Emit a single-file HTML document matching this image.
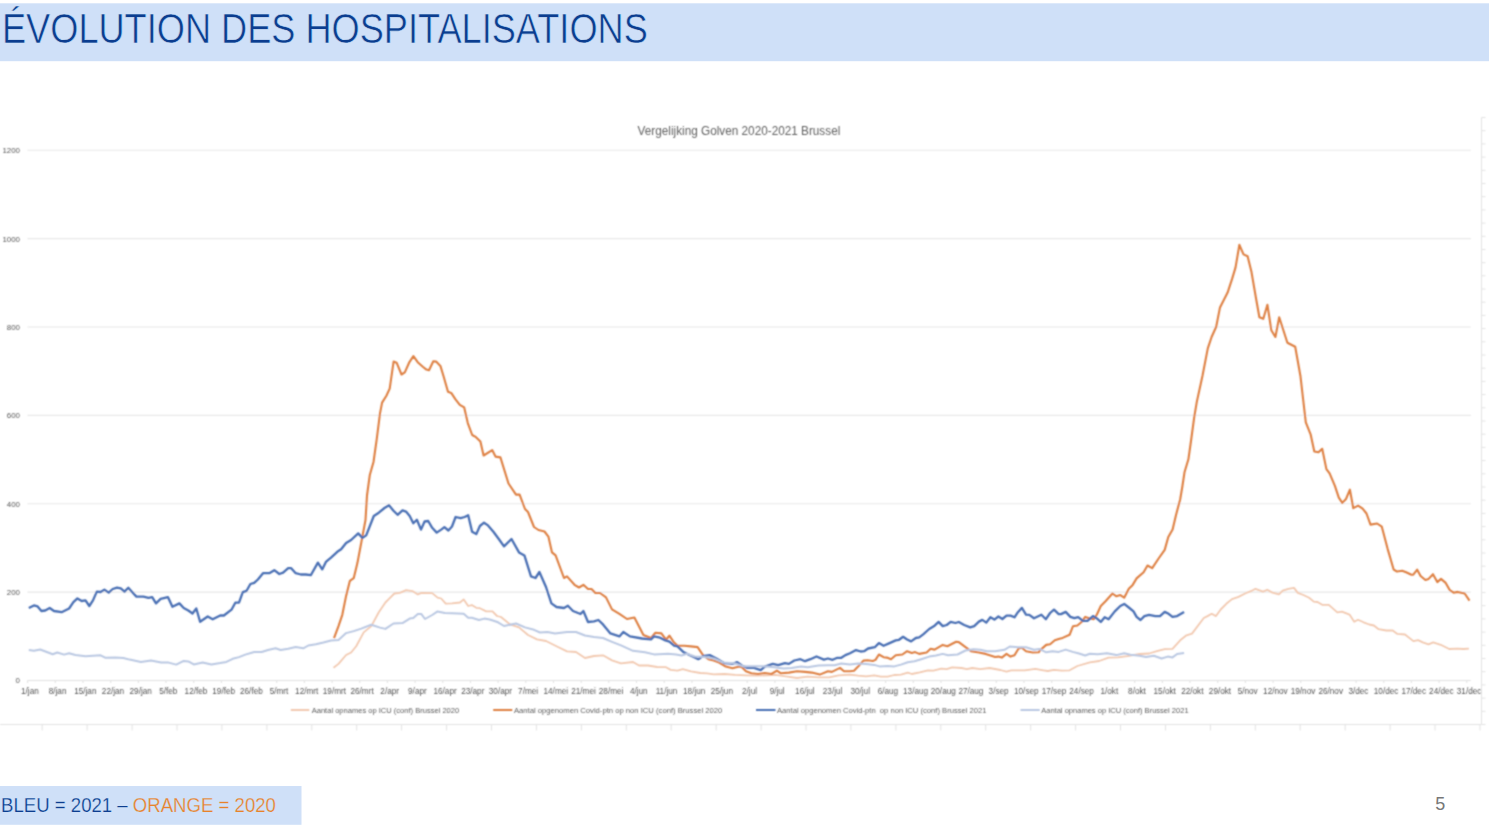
<!DOCTYPE html>
<html><head><meta charset="utf-8"><title>slide</title>
<style>
html,body{margin:0;padding:0;background:#fff;}
body{width:1489px;height:834px;overflow:hidden;position:relative;font-family:"Liberation Sans", sans-serif;}
svg text{font-family:"Liberation Sans", sans-serif;}
</style></head><body>
<svg width="1489" height="834" viewBox="0 0 1489 834" style="position:absolute;left:0;top:0"><rect x="0" y="3.3" width="1489" height="57.9" fill="#CFE0F8"/><text x="2.0" y="43.3" font-size="42" fill="#0C3D8F" stroke="#CFE0F8" stroke-width="0.6" textLength="645.8" lengthAdjust="spacingAndGlyphs">ÉVOLUTION DES HOSPITALISATIONS</text><defs><filter id="bl" x="-2%" y="-2%" width="104%" height="104%"><feConvolveMatrix order="3" kernelMatrix="1 2 1 2 6 2 1 2 1" divisor="18" edgeMode="none"/></filter></defs><g filter="url(#bl)"><g stroke="#E3E3E3" stroke-width="1" fill="none"><path d="M0,724.5 H1481.5 M1481.5,117.5 V724.5"/><path d="M42.2,724.5 V730.5 M87.1,724.5 V730.5 M132.1,724.5 V730.5 M177.0,724.5 V730.5 M221.9,724.5 V730.5 M266.9,724.5 V730.5 M311.8,724.5 V730.5 M356.7,724.5 V730.5 M401.6,724.5 V730.5 M446.6,724.5 V730.5 M491.5,724.5 V730.5 M536.4,724.5 V730.5 M581.4,724.5 V730.5 M626.3,724.5 V730.5 M671.2,724.5 V730.5 M716.2,724.5 V730.5 M761.1,724.5 V730.5 M806.0,724.5 V730.5 M850.9,724.5 V730.5 M895.9,724.5 V730.5 M940.8,724.5 V730.5 M985.7,724.5 V730.5 M1030.7,724.5 V730.5 M1075.6,724.5 V730.5 M1120.5,724.5 V730.5 M1165.5,724.5 V730.5 M1210.4,724.5 V730.5 M1255.3,724.5 V730.5 M1300.2,724.5 V730.5 M1345.2,724.5 V730.5 M1390.1,724.5 V730.5 M1435.0,724.5 V730.5 M1480.0,724.5 V730.5 M1481.5,117.5 H1485.5 M1481.5,130.7 H1485.5 M1481.5,143.9 H1485.5 M1481.5,157.1 H1485.5 M1481.5,170.3 H1485.5 M1481.5,183.5 H1485.5 M1481.5,196.7 H1485.5 M1481.5,209.9 H1485.5 M1481.5,223.1 H1485.5 M1481.5,236.3 H1485.5 M1481.5,249.5 H1485.5 M1481.5,262.7 H1485.5 M1481.5,275.8 H1485.5 M1481.5,289.0 H1485.5 M1481.5,302.2 H1485.5 M1481.5,315.4 H1485.5 M1481.5,328.6 H1485.5 M1481.5,341.8 H1485.5 M1481.5,355.0 H1485.5 M1481.5,368.2 H1485.5 M1481.5,381.4 H1485.5 M1481.5,394.6 H1485.5 M1481.5,407.8 H1485.5 M1481.5,421.0 H1485.5 M1481.5,434.2 H1485.5 M1481.5,447.4 H1485.5 M1481.5,460.6 H1485.5 M1481.5,473.8 H1485.5 M1481.5,487.0 H1485.5 M1481.5,500.2 H1485.5 M1481.5,513.4 H1485.5 M1481.5,526.6 H1485.5 M1481.5,539.8 H1485.5 M1481.5,553.0 H1485.5 M1481.5,566.2 H1485.5 M1481.5,579.3 H1485.5 M1481.5,592.5 H1485.5 M1481.5,605.7 H1485.5 M1481.5,618.9 H1485.5 M1481.5,632.1 H1485.5 M1481.5,645.3 H1485.5 M1481.5,658.5 H1485.5 M1481.5,671.7 H1485.5 M1481.5,684.9 H1485.5 M1481.5,698.1 H1485.5 M1481.5,711.3 H1485.5 M1481.5,724.5 H1485.5"/></g><path d="M27.4,592.1 H1470.8 M27.4,503.8 H1470.8 M27.4,415.4 H1470.8 M27.4,327.0 H1470.8 M27.4,238.6 H1470.8 M27.4,150.3 H1470.8" stroke="#E8E8E8" stroke-width="1.1" fill="none"/><path d="M27.4,680.5 H1470.8 M27.6,680.5 V683.0 M55.3,680.5 V683.0 M83.0,680.5 V683.0 M110.7,680.5 V683.0 M138.4,680.5 V683.0 M166.0,680.5 V683.0 M193.7,680.5 V683.0 M221.4,680.5 V683.0 M249.1,680.5 V683.0 M276.7,680.5 V683.0 M304.4,680.5 V683.0 M332.1,680.5 V683.0 M359.8,680.5 V683.0 M387.4,680.5 V683.0 M415.1,680.5 V683.0 M442.8,680.5 V683.0 M470.5,680.5 V683.0 M498.1,680.5 V683.0 M525.8,680.5 V683.0 M553.5,680.5 V683.0 M581.2,680.5 V683.0 M608.8,680.5 V683.0 M636.5,680.5 V683.0 M664.2,680.5 V683.0 M691.9,680.5 V683.0 M719.5,680.5 V683.0 M747.2,680.5 V683.0 M774.9,680.5 V683.0 M802.6,680.5 V683.0 M830.3,680.5 V683.0 M857.9,680.5 V683.0 M885.6,680.5 V683.0 M913.3,680.5 V683.0 M941.0,680.5 V683.0 M968.6,680.5 V683.0 M996.3,680.5 V683.0 M1024.0,680.5 V683.0 M1051.7,680.5 V683.0 M1079.3,680.5 V683.0 M1107.0,680.5 V683.0 M1134.7,680.5 V683.0 M1162.4,680.5 V683.0 M1190.0,680.5 V683.0 M1217.7,680.5 V683.0 M1245.4,680.5 V683.0 M1273.1,680.5 V683.0 M1300.7,680.5 V683.0 M1328.4,680.5 V683.0 M1356.1,680.5 V683.0 M1383.8,680.5 V683.0 M1411.4,680.5 V683.0 M1439.1,680.5 V683.0 M1466.8,680.5 V683.0" stroke="#E2E2E2" stroke-width="1.1" fill="none"/><g font-size="7.9" fill="#555555" text-anchor="end"><text x="20.0" y="683.4">0</text><text x="20.0" y="595.0">200</text><text x="20.0" y="506.7">400</text><text x="20.0" y="418.3">600</text><text x="20.0" y="329.9">800</text><text x="20.0" y="241.5">1000</text><text x="20.0" y="153.2">1200</text></g><g font-size="8.2" fill="#505050" text-anchor="middle"><text x="29.9" y="694.3">1/jan</text><text x="57.6" y="694.3">8/jan</text><text x="85.3" y="694.3">15/jan</text><text x="113.0" y="694.3">22/jan</text><text x="140.7" y="694.3">29/jan</text><text x="168.3" y="694.3">5/feb</text><text x="196.0" y="694.3">12/feb</text><text x="223.7" y="694.3">19/feb</text><text x="251.4" y="694.3">26/feb</text><text x="279.0" y="694.3">5/mrt</text><text x="306.7" y="694.3">12/mrt</text><text x="334.4" y="694.3">19/mrt</text><text x="362.1" y="694.3">26/mrt</text><text x="389.7" y="694.3">2/apr</text><text x="417.4" y="694.3">9/apr</text><text x="445.1" y="694.3">16/apr</text><text x="472.8" y="694.3">23/apr</text><text x="500.4" y="694.3">30/apr</text><text x="528.1" y="694.3">7/mei</text><text x="555.8" y="694.3">14/mei</text><text x="583.5" y="694.3">21/mei</text><text x="611.1" y="694.3">28/mei</text><text x="638.8" y="694.3">4/jun</text><text x="666.5" y="694.3">11/jun</text><text x="694.2" y="694.3">18/jun</text><text x="721.8" y="694.3">25/jun</text><text x="749.5" y="694.3">2/jul</text><text x="777.2" y="694.3">9/jul</text><text x="804.9" y="694.3">16/jul</text><text x="832.6" y="694.3">23/jul</text><text x="860.2" y="694.3">30/jul</text><text x="887.9" y="694.3">6/aug</text><text x="915.6" y="694.3">13/aug</text><text x="943.3" y="694.3">20/aug</text><text x="970.9" y="694.3">27/aug</text><text x="998.6" y="694.3">3/sep</text><text x="1026.3" y="694.3">10/sep</text><text x="1054.0" y="694.3">17/sep</text><text x="1081.6" y="694.3">24/sep</text><text x="1109.3" y="694.3">1/okt</text><text x="1137.0" y="694.3">8/okt</text><text x="1164.7" y="694.3">15/okt</text><text x="1192.3" y="694.3">22/okt</text><text x="1220.0" y="694.3">29/okt</text><text x="1247.7" y="694.3">5/nov</text><text x="1275.4" y="694.3">12/nov</text><text x="1303.0" y="694.3">19/nov</text><text x="1330.7" y="694.3">26/nov</text><text x="1358.4" y="694.3">3/dec</text><text x="1386.1" y="694.3">10/dec</text><text x="1413.7" y="694.3">17/dec</text><text x="1441.4" y="694.3">24/dec</text><text x="1469.1" y="694.3">31/dec</text></g><text x="637.6" y="135.4" font-size="12" fill="#606060" textLength="202.7" lengthAdjust="spacingAndGlyphs">Vergelijking Golven 2020-2021 Brussel</text><path d="M333.5,667.7 L338.5,663.9 L346.1,655.0 L351.1,652.5 L356.2,646.2 L363.7,632.4 L371.3,626.1 L378.8,612.2 L385.4,602.5 L389.0,598.9 L394.4,593.5 L399.8,592.9 L406.1,590.2 L412.4,591.1 L417.8,594.4 L421.4,592.9 L432.2,593.1 L437.6,597.6 L441.2,598.5 L445.7,603.7 L452.0,603.4 L460.0,602.5 L463.7,599.4 L468.2,606.0 L471.8,605.1 L476.3,607.8 L479.9,608.2 L486.2,611.4 L492.5,611.4 L497.0,616.0 L501.0,617.0 L510.0,624.4 L519.0,627.4 L528.0,635.0 L537.0,639.4 L546.0,641.0 L558.0,647.0 L567.0,651.4 L576.0,652.0 L585.0,658.0 L594.0,656.0 L603.0,655.3 L612.0,660.4 L621.0,663.4 L633.0,662.0 L639.0,665.5 L648.0,665.5 L657.0,667.0 L666.0,667.2 L670.7,669.9 L677.5,670.6 L682.8,669.2 L690.9,671.3 L700.3,673.0 L707.0,673.3 L713.7,674.4 L724.5,674.0 L735.2,674.9 L746.0,675.3 L756.7,675.6 L767.5,675.3 L775.5,674.9 L787.6,676.6 L797.0,678.0 L807.7,676.6 L818.5,677.3 L829.2,677.3 L838.6,675.3 L850.0,674.7 L858.1,675.6 L866.1,676.3 L874.2,675.4 L880.9,676.7 L887.6,676.7 L894.3,675.0 L901.0,674.7 L907.8,672.7 L911.8,674.0 L919.8,672.4 L927.9,670.3 L933.3,670.7 L941.3,668.7 L946.7,669.1 L952.1,667.3 L961.5,668.0 L966.9,669.1 L972.2,668.0 L980.3,669.1 L989.7,668.0 L1000.4,670.0 L1006.5,671.6 L1011.2,670.4 L1024.6,670.3 L1035.4,668.9 L1043.4,670.3 L1047.8,671.0 L1054.0,669.9 L1061.8,670.6 L1069.6,670.3 L1077.4,666.0 L1089.9,662.4 L1099.2,661.0 L1108.6,657.7 L1117.9,657.4 L1127.3,656.2 L1139.7,654.0 L1149.1,653.5 L1156.9,651.2 L1164.7,649.1 L1172.5,648.8 L1180.2,640.3 L1186.5,635.3 L1192.0,633.6 L1203.8,618.0 L1207.5,616.1 L1211.7,613.8 L1216.0,616.1 L1220.7,609.5 L1226.3,603.8 L1232.0,599.1 L1238.5,596.9 L1245.1,593.5 L1250.8,591.2 L1255.5,588.8 L1263.0,591.6 L1267.3,589.7 L1272.4,592.6 L1279.0,594.4 L1282.7,590.7 L1288.4,588.8 L1294.0,587.9 L1297.8,592.9 L1303.4,595.0 L1309.1,597.8 L1313.8,601.6 L1317.5,602.0 L1322.2,604.8 L1328.8,604.8 L1337.3,612.3 L1342.0,611.7 L1349.5,614.6 L1354.2,621.7 L1358.0,619.8 L1363.6,622.3 L1369.2,624.5 L1373.9,625.5 L1378.6,629.2 L1386.2,630.5 L1392.7,630.5 L1397.4,633.9 L1405.0,634.5 L1413.4,641.1 L1418.1,640.1 L1422.8,642.4 L1428.5,644.3 L1433.2,642.4 L1440.7,644.8 L1449.2,649.0 L1457.6,648.6 L1463.3,649.0 L1468.9,648.6" stroke="#F2C9B0" stroke-width="1.8" fill="none" stroke-linejoin="round"/><path d="M334.0,638.2 L338.5,626.1 L342.3,614.8 L346.1,595.9 L349.9,580.8 L353.7,578.2 L357.4,563.1 L361.2,543.0 L365.5,520.0 L367.0,495.5 L369.8,475.0 L373.5,462.0 L376.7,439.3 L380.0,413.4 L382.1,402.6 L386.4,395.7 L389.7,388.6 L393.6,361.6 L396.6,362.7 L401.5,374.5 L404.8,372.4 L409.1,362.7 L413.4,356.2 L417.7,362.2 L423.1,367.0 L426.4,369.6 L429.0,370.2 L433.3,361.2 L436.1,361.6 L440.4,365.9 L443.7,376.7 L448.0,391.8 L451.2,392.9 L455.5,399.4 L459.8,404.8 L464.2,407.4 L467.8,423.1 L472.2,435.0 L476.0,437.2 L480.4,441.5 L483.6,455.5 L492.2,450.1 L495.5,456.6 L500.4,457.4 L508.5,483.5 L516.0,494.6 L519.6,494.6 L525.0,509.0 L528.0,512.0 L534.0,527.0 L538.5,530.0 L544.5,531.5 L548.4,536.6 L552.0,552.4 L555.6,555.4 L564.0,578.0 L567.0,576.4 L574.5,584.8 L579.0,587.5 L583.4,584.8 L588.0,589.0 L591.5,589.0 L595.4,593.0 L600.0,593.0 L606.0,597.4 L612.0,609.4 L619.4,613.9 L627.0,619.0 L634.4,617.5 L643.4,635.0 L651.0,638.0 L655.4,632.8 L661.4,633.4 L666.0,639.7 L669.4,635.7 L673.4,641.7 L677.5,645.7 L684.2,645.7 L690.9,646.4 L697.6,647.1 L703.0,655.1 L708.4,659.2 L713.7,660.5 L719.1,662.5 L725.8,666.6 L732.5,668.2 L739.2,666.6 L741.9,667.2 L746.0,671.3 L751.3,673.3 L758.0,674.0 L764.8,673.0 L771.5,674.0 L776.9,670.6 L780.9,673.3 L788.9,672.6 L797.0,671.3 L805.0,671.9 L811.8,672.6 L819.8,674.6 L827.9,671.3 L831.9,671.9 L840.0,667.9 L844.0,671.3 L850.0,671.3 L854.0,670.7 L858.1,666.6 L863.4,660.6 L867.5,660.2 L872.8,661.0 L875.5,659.9 L878.9,654.5 L883.6,657.2 L886.9,657.6 L891.0,659.2 L895.7,655.2 L902.4,654.5 L907.1,651.2 L911.8,652.9 L915.1,652.1 L919.2,653.9 L926.6,652.5 L930.6,648.8 L934.6,649.6 L942.7,644.9 L947.4,646.2 L956.1,641.8 L958.8,642.1 L968.2,649.2 L970.9,651.2 L978.9,652.5 L985.7,653.9 L995.1,657.0 L998.4,656.6 L1001.8,657.6 L1006.5,653.9 L1010.5,656.6 L1014.5,655.2 L1018.6,648.5 L1021.9,647.8 L1026.0,651.2 L1032.7,652.5 L1038.7,652.3 L1040.0,650.4 L1046.2,644.9 L1050.1,644.2 L1054.8,640.3 L1059.5,638.7 L1062.6,637.9 L1069.6,634.8 L1073.0,626.2 L1077.4,625.5 L1081.3,622.3 L1085.2,616.9 L1089.9,618.4 L1093.8,619.2 L1096.9,614.5 L1100.8,606.0 L1105.5,601.3 L1112.5,593.5 L1116.4,596.3 L1120.3,595.1 L1124.2,597.7 L1128.8,588.8 L1132.7,584.9 L1136.6,578.4 L1143.6,572.2 L1147.5,565.5 L1152.2,568.1 L1158.6,558.5 L1164.7,549.9 L1168.3,537.0 L1172.6,529.4 L1175.9,515.4 L1180.2,499.2 L1182.4,486.3 L1184.5,472.3 L1188.4,459.3 L1191.0,441.0 L1194.2,417.3 L1196.8,401.9 L1202.5,375.7 L1207.8,348.4 L1211.6,337.0 L1216.2,326.7 L1220.0,307.4 L1227.6,292.6 L1232.1,278.9 L1235.5,267.6 L1239.4,244.8 L1243.5,254.4 L1247.6,256.2 L1251.5,272.1 L1256.0,298.3 L1259.4,317.2 L1263.3,318.8 L1267.4,304.7 L1271.3,330.2 L1275.4,337.0 L1279.2,317.2 L1287.4,342.7 L1295.2,346.8 L1300.4,375.7 L1303.2,400.0 L1305.8,422.4 L1310.6,434.3 L1314.3,451.5 L1318.5,452.3 L1322.2,448.8 L1326.4,469.1 L1329.6,473.4 L1334.9,485.8 L1338.8,497.7 L1342.3,502.9 L1346.0,499.0 L1349.9,489.7 L1353.3,508.2 L1358.1,505.6 L1362.6,508.7 L1366.5,513.5 L1370.5,524.6 L1377.1,523.5 L1381.8,526.7 L1387.7,549.1 L1393.7,569.7 L1396.9,571.5 L1402.2,570.8 L1406.1,572.3 L1411.4,574.7 L1413.3,574.7 L1417.2,569.7 L1420.6,576.0 L1425.4,580.0 L1428.6,578.9 L1433.0,574.2 L1437.3,582.1 L1441.0,578.9 L1445.7,582.9 L1449.7,590.0 L1453.6,592.7 L1457.6,591.9 L1464.7,593.5 L1469.5,600.6" stroke="#DE8043" stroke-width="2.1" fill="none" stroke-linejoin="round"/><path d="M28.8,608.0 L33.9,605.4 L37.6,606.4 L41.4,611.0 L45.2,610.5 L49.7,608.0 L54.0,611.0 L61.6,612.2 L69.1,608.5 L73.4,602.2 L77.4,598.4 L81.7,601.0 L85.5,600.4 L89.3,606.0 L93.0,600.4 L96.8,591.6 L100.6,592.0 L104.4,589.6 L108.7,592.6 L112.7,589.0 L117.0,587.6 L120.8,588.3 L124.5,591.6 L128.3,587.8 L132.1,592.0 L136.4,596.6 L143.4,596.6 L148.5,597.9 L152.2,597.1 L156.0,603.4 L160.6,598.9 L167.9,597.1 L172.4,606.7 L179.4,603.4 L183.7,608.0 L188.3,610.5 L192.5,613.5 L196.3,608.5 L200.1,621.8 L207.7,616.5 L212.7,619.3 L220.2,615.5 L223.9,615.5 L231.5,609.7 L235.3,602.7 L239.0,602.7 L242.8,592.1 L246.6,590.8 L250.4,584.0 L254.2,582.8 L257.9,579.5 L263.0,573.2 L269.3,573.2 L274.3,570.2 L279.3,574.0 L283.1,572.7 L288.2,568.2 L291.2,568.2 L295.7,573.2 L300.8,574.5 L305.8,574.5 L310.8,575.2 L317.9,562.6 L322.2,569.4 L325.9,561.9 L331.0,557.6 L337.3,551.8 L341.1,549.3 L346.1,543.0 L351.1,540.0 L358.2,533.4 L362.5,537.9 L366.2,535.4 L373.8,516.0 L378.8,512.7 L384.5,508.0 L389.0,505.3 L393.5,510.7 L397.6,514.8 L402.5,510.3 L406.0,511.6 L409.7,516.0 L413.3,523.3 L416.9,519.7 L421.0,529.6 L424.6,521.5 L428.2,521.0 L432.2,527.8 L436.7,532.6 L441.2,529.6 L444.4,527.2 L448.4,530.5 L452.0,526.5 L455.6,517.0 L460.6,518.2 L464.6,517.0 L468.2,515.2 L472.1,531.7 L476.3,534.1 L479.9,526.0 L484.0,522.7 L488.0,525.4 L493.4,531.7 L499.5,540.0 L504.0,546.4 L511.5,539.0 L519.0,552.4 L524.4,555.4 L531.0,576.4 L535.5,578.0 L539.4,572.0 L546.0,587.0 L551.4,603.4 L556.5,607.0 L564.0,608.0 L567.9,605.8 L573.0,611.0 L580.5,614.0 L583.4,611.0 L588.0,622.0 L594.0,621.4 L598.4,620.0 L603.0,624.4 L610.4,633.4 L619.4,636.4 L623.3,632.0 L630.0,636.4 L642.0,638.5 L651.0,639.4 L654.0,636.4 L660.0,637.7 L665.4,640.4 L669.4,641.7 L674.1,645.7 L677.5,646.4 L683.5,652.1 L690.9,655.8 L698.3,659.2 L703.0,656.1 L709.7,655.1 L716.4,658.5 L724.5,663.2 L732.5,663.9 L737.2,662.1 L741.9,665.5 L747.3,667.9 L754.0,667.9 L760.7,670.2 L764.8,666.6 L772.8,663.9 L778.2,665.2 L784.9,663.2 L788.9,663.9 L794.3,660.5 L800.4,659.2 L805.0,661.2 L810.4,659.2 L816.5,656.5 L823.9,659.6 L827.9,658.5 L832.6,659.8 L837.3,657.8 L841.3,657.8 L845.4,655.1 L850.0,653.2 L856.0,650.1 L860.7,651.5 L864.1,651.2 L868.1,648.5 L874.8,647.2 L878.9,643.1 L883.6,645.8 L889.0,643.4 L895.7,640.4 L899.0,639.8 L903.1,636.8 L907.1,639.5 L911.1,641.4 L915.8,638.0 L919.2,637.4 L923.2,634.4 L929.2,629.0 L934.6,625.7 L938.6,621.9 L942.7,626.1 L946.7,625.0 L950.7,621.9 L955.4,623.0 L958.8,622.0 L964.2,625.0 L970.2,627.4 L974.2,626.1 L978.9,621.6 L982.3,619.9 L986.3,622.6 L990.4,617.3 L994.4,619.6 L998.4,616.5 L1002.4,619.0 L1006.5,615.6 L1010.5,615.6 L1014.5,617.3 L1017.9,612.2 L1021.9,607.9 L1026.0,614.7 L1029.3,614.9 L1034.0,618.3 L1041.4,614.7 L1045.9,619.2 L1050.1,613.0 L1054.0,609.6 L1058.7,614.1 L1061.0,614.1 L1065.7,611.9 L1070.4,616.9 L1074.3,618.1 L1078.2,617.2 L1082.9,620.8 L1087.5,620.8 L1093.0,616.1 L1096.9,618.4 L1100.8,622.0 L1104.7,617.2 L1108.6,619.2 L1114.8,611.4 L1120.3,606.0 L1124.2,603.9 L1128.8,607.5 L1133.5,611.4 L1136.6,616.9 L1140.5,620.0 L1144.4,616.1 L1149.1,614.9 L1155.3,616.1 L1160.0,616.1 L1164.7,611.9 L1168.6,613.8 L1172.5,616.9 L1177.1,616.1 L1184.1,611.9" stroke="#4A6FB4" stroke-width="2.3" fill="none" stroke-linejoin="round"/><path d="M28.8,650.0 L33.9,650.8 L40.2,649.5 L52.7,654.3 L57.3,652.5 L64.1,654.6 L69.1,653.3 L75.4,655.0 L85.5,656.3 L100.6,655.3 L105.6,657.8 L115.7,657.6 L123.3,658.0 L129.6,659.6 L140.9,661.9 L151.0,660.6 L161.1,662.6 L168.6,662.6 L176.2,664.6 L183.7,660.9 L188.3,661.4 L193.8,664.4 L202.6,662.6 L211.4,664.6 L220.2,663.1 L226.4,661.9 L232.7,658.8 L239.0,657.1 L245.3,654.6 L254.2,652.0 L261.7,652.0 L268.0,650.0 L275.6,648.3 L280.6,650.0 L288.2,648.8 L295.7,647.0 L303.3,648.3 L308.3,645.5 L315.9,644.2 L323.4,642.5 L331.0,640.5 L338.5,640.0 L346.1,633.1 L353.7,631.1 L361.2,628.6 L371.3,624.8 L380.0,627.6 L385.4,628.9 L393.5,623.5 L402.5,623.1 L409.7,618.6 L413.3,618.1 L417.8,614.1 L421.4,614.1 L425.0,619.0 L432.2,615.0 L437.6,611.4 L444.8,612.9 L452.0,613.2 L463.7,613.8 L468.2,617.7 L471.8,617.7 L479.0,620.0 L484.4,618.6 L489.8,619.5 L495.1,621.3 L498.0,622.3 L504.0,626.0 L516.0,623.5 L525.0,627.4 L534.0,629.8 L540.0,632.5 L547.5,632.0 L555.0,633.4 L567.0,632.0 L576.0,632.0 L585.0,635.5 L594.0,637.0 L603.0,638.0 L612.0,641.8 L621.0,645.4 L633.0,650.8 L645.0,652.3 L654.0,654.4 L668.1,653.8 L676.1,654.5 L681.5,655.5 L686.9,653.8 L694.9,656.5 L704.3,656.9 L713.7,658.5 L723.1,662.5 L733.9,663.2 L743.3,666.3 L754.0,666.3 L763.4,666.2 L774.2,667.2 L783.6,668.6 L791.6,667.9 L801.0,666.6 L807.7,667.2 L818.5,665.6 L827.9,665.2 L834.6,665.2 L841.3,663.5 L850.0,664.6 L858.1,663.5 L866.1,663.9 L874.2,664.9 L879.5,666.4 L887.6,666.0 L894.3,666.4 L901.0,664.6 L907.8,662.2 L914.5,661.3 L921.2,659.2 L929.2,656.6 L936.0,655.5 L942.7,653.9 L948.0,655.2 L957.5,654.5 L965.5,650.5 L973.6,649.2 L980.3,649.8 L987.0,651.2 L995.1,651.2 L1004.5,649.8 L1009.8,646.5 L1017.9,647.2 L1026.0,647.2 L1034.0,649.8 L1039.4,648.9 L1046.2,652.3 L1052.5,651.2 L1058.7,651.9 L1065.7,649.6 L1072.7,651.9 L1079.0,653.5 L1085.2,655.5 L1089.9,653.8 L1097.7,654.3 L1107.0,653.2 L1116.4,655.1 L1124.2,653.2 L1130.4,654.7 L1139.7,655.8 L1146.0,657.1 L1153.8,655.8 L1161.6,658.5 L1167.8,656.6 L1172.5,657.4 L1177.1,654.0 L1184.1,653.0" stroke="#BAC8E2" stroke-width="2.0" fill="none" stroke-linejoin="round"/><path d="M290.8,710 H309.3" stroke="#F2C9B0" stroke-width="2"/><text x="311.7" y="712.6" font-size="7.5" fill="#595959" textLength="147.5" lengthAdjust="spacingAndGlyphs" xml:space="preserve">Aantal opnames op ICU (conf) Brussel 2020</text><path d="M493.2,710 H512.3" stroke="#DE8043" stroke-width="2"/><text x="513.9" y="712.6" font-size="7.5" fill="#595959" textLength="208.5" lengthAdjust="spacingAndGlyphs" xml:space="preserve">Aantal opgenomen Covid-ptn op non ICU (conf) Brussel 2020</text><path d="M756,710 H775.5" stroke="#4A6FB4" stroke-width="2"/><text x="777" y="712.6" font-size="7.5" fill="#595959" textLength="209.5" lengthAdjust="spacingAndGlyphs" xml:space="preserve">Aantal opgenomen Covid-ptn  op non ICU (conf) Brussel 2021</text><path d="M1020.5,710 H1039.7" stroke="#BAC8E2" stroke-width="2"/><text x="1041.2" y="712.6" font-size="7.5" fill="#595959" textLength="147.4" lengthAdjust="spacingAndGlyphs" xml:space="preserve">Aantal opnames op ICU (conf) Brussel 2021</text></g><rect x="0" y="786" width="301.5" height="38.8" fill="#CFE0F8"/><text x="1.1" y="812.2" font-size="20.8" stroke="#CFE0F8" stroke-width="0.25" textLength="274.8" lengthAdjust="spacingAndGlyphs"><tspan fill="#0C3D8F">BLEU = 2021 – </tspan><tspan fill="#E8822A">ORANGE = 2020</tspan></text><text x="1435.3" y="809.6" font-size="18" fill="#777777">5</text></svg>
</body></html>
